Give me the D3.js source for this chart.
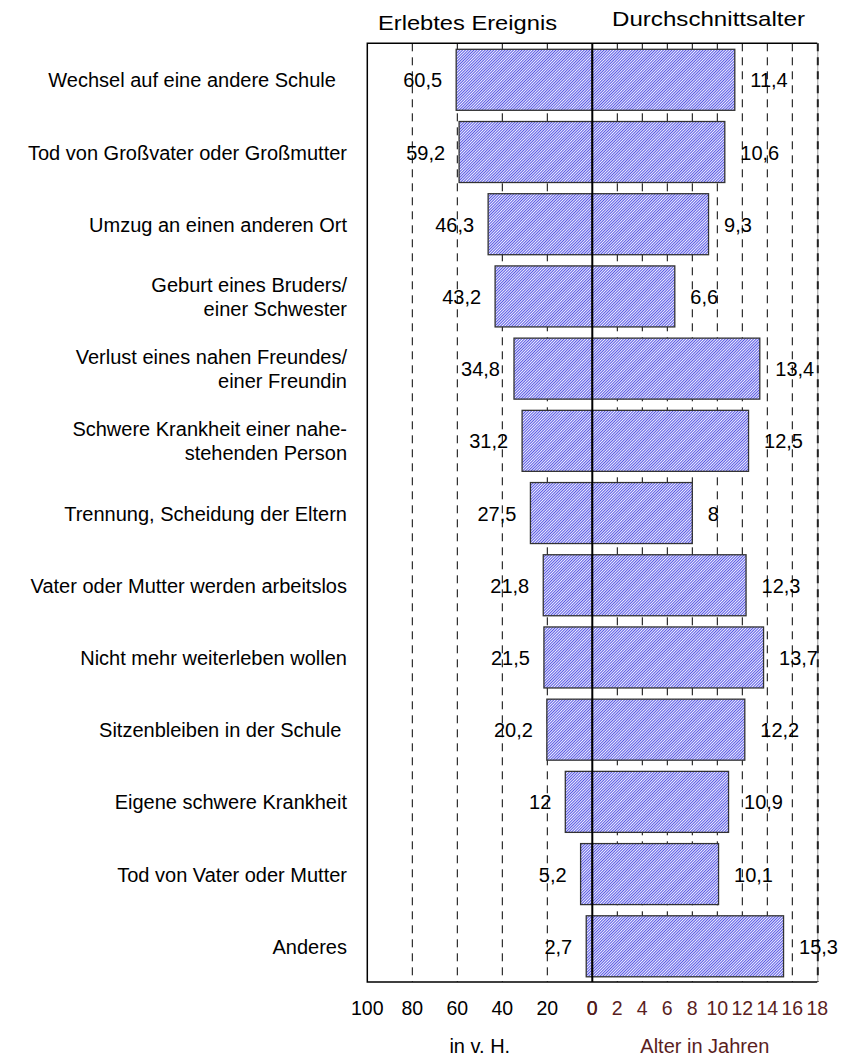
<!DOCTYPE html>
<html>
<head>
<meta charset="utf-8">
<script src="https://cdn.jsdelivr.net/npm/d3@7"></script>
<style>
  body { margin: 0; background: #fff; }
  text { font-family: Arial, "Liberation Sans", sans-serif; fill: #000; }
</style>
</head>
<body>
<svg id="chart"></svg>
<script>
const width = 841;
const height = 1059;

// Data
const categories = [
    ['Wechsel auf eine andere Schule  '],
    ['Tod von Großvater oder Großmutter'],
    ['Umzug an einen anderen Ort'],
    ['Geburt eines Bruders/', 'einer Schwester'],
    ['Verlust eines nahen Freundes/', 'einer Freundin'],
    ['Schwere Krankheit einer nahe-', 'stehenden Person'],
    ['Trennung, Scheidung der Eltern'],
    ['Vater oder Mutter werden arbeitslos'],
    ['Nicht mehr weiterleben wollen'],
    ['Sitzenbleiben in der Schule '],
    ['Eigene schwere Krankheit'],
    ['Tod von Vater oder Mutter'],
    ['Anderes']
];
const erlebt = [60.5, 59.2, 46.3, 43.2, 34.8, 31.2, 27.5, 21.8, 21.5, 20.2, 12, 5.2, 2.7];
const alter = [11.4, 10.6, 9.3, 6.6, 13.4, 12.5, 8, 12.3, 13.7, 12.2, 10.9, 10.1, 15.3];
const leftTicks = [100, 80, 60, 40, 20, 0];
const rightTicks = [0, 2, 4, 6, 8, 10, 12, 14, 16, 18];

// Layout
const plot = { left: 367.3, mid: 592.3, right: 817.3, top: 43.3, bottom: 982 };
const brown = '#5a1e1e';

const svg = d3.select('#chart')
    .attr('width', width)
    .attr('height', height);

// Hatch pattern (fine diagonal lines)
const defs = svg.append('defs');
const pat = defs.append('pattern')
    .attr('id', 'hatch')
    .attr('patternUnits', 'userSpaceOnUse')
    .attr('width', 2)
    .attr('height', 2)
    .attr('patternTransform', 'rotate(45)');
pat.append('rect').attr('width', 2).attr('height', 2).attr('fill', '#f0f0ff');
pat.append('rect').attr('width', 1).attr('height', 2).attr('fill', '#5858e4');

// Scales
const xLeft = d3.scaleLinear().domain([0, 100]).range([plot.mid, plot.left]);
const xRight = d3.scaleLinear().domain([0, 18]).range([plot.mid, plot.right]);

const bandStep = (plot.bottom - plot.top) / categories.length;
const barTop = i => plot.top + i * bandStep + 6;
const barH = 61;
const rowMid = i => plot.top + (i + 0.5) * bandStep;

// Gridlines
const grid = svg.append('g').attr('class', 'grid');
grid.selectAll('.gl')
    .data([80, 60, 40, 20])
    .join('line')
    .attr('x1', d => xLeft(d)).attr('x2', d => xLeft(d))
    .attr('y1', plot.top).attr('y2', plot.bottom)
    .attr('stroke', '#000').attr('stroke-width', 1)
    .attr('stroke-dasharray', '8,6');
grid.selectAll('.gr')
    .data([2, 4, 6, 8, 10, 12, 14, 16])
    .join('line')
    .attr('x1', d => xRight(d)).attr('x2', d => xRight(d))
    .attr('y1', plot.top).attr('y2', plot.bottom)
    .attr('stroke', '#000').attr('stroke-width', 1)
    .attr('stroke-dasharray', '8,6');

// Frame
const frame = svg.append('g');
frame.append('path')
    .attr('d', `M${plot.right},${plot.top}H${plot.left}V${plot.bottom}H${plot.right}`)
    .attr('fill', 'none').attr('stroke', '#000').attr('stroke-width', 1.5);
frame.append('line')
    .attr('x1', plot.right + 0.5).attr('x2', plot.right + 0.5)
    .attr('y1', plot.top).attr('y2', plot.bottom)
    .attr('stroke', '#999').attr('stroke-width', 1);
frame.append('line')
    .attr('x1', plot.right + 0.5).attr('x2', plot.right + 0.5)
    .attr('y1', plot.top).attr('y2', plot.bottom)
    .attr('stroke', '#222').attr('stroke-width', 2)
    .attr('stroke-dasharray', '8,6');

// Bars
const bars = svg.append('g');
bars.selectAll('.bl')
    .data(erlebt)
    .join('rect')
    .attr('x', d => xLeft(d))
    .attr('y', (d, i) => barTop(i))
    .attr('width', d => plot.mid - xLeft(d))
    .attr('height', barH)
    .attr('fill', 'url(#hatch)')
    .attr('stroke', '#333').attr('stroke-width', 1.3);
bars.selectAll('.br')
    .data(alter)
    .join('rect')
    .attr('x', plot.mid)
    .attr('y', (d, i) => barTop(i))
    .attr('width', d => xRight(d) - plot.mid)
    .attr('height', barH)
    .attr('fill', 'url(#hatch)')
    .attr('stroke', '#333').attr('stroke-width', 1.3);

// Center line
svg.append('line')
    .attr('x1', plot.mid).attr('x2', plot.mid)
    .attr('y1', plot.top).attr('y2', plot.bottom)
    .attr('stroke', '#000').attr('stroke-width', 2);

// Value labels
const fmt = v => String(v).replace('.', ',');
svg.append('g').selectAll('text')
    .data(erlebt)
    .join('text')
    .attr('x', d => xLeft(d) - 14)
    .attr('y', (d, i) => rowMid(i) + 8)
    .attr('text-anchor', 'end')
    .attr('font-size', 20)
    .text(fmt);
svg.append('g').selectAll('text')
    .data(alter)
    .join('text')
    .attr('x', d => xRight(d) + 15.5)
    .attr('y', (d, i) => rowMid(i) + 8)
    .attr('font-size', 20)
    .text(fmt);

// Category labels
const cat = svg.append('g').selectAll('text')
    .data(categories)
    .join('text')
    .attr('text-anchor', 'end')
    .attr('font-size', 20)
    .style('white-space', 'pre')
    .attr('y', (d, i) => rowMid(i) + 8 - (d.length - 1) * 12);
cat.selectAll('tspan')
    .data(d => d)
    .join('tspan')
    .attr('x', 347)
    .attr('dy', (d, i) => i === 0 ? 0 : 24)
    .text(d => d);

// Axis tick labels
svg.append('g').selectAll('text')
    .data(leftTicks)
    .join('text')
    .attr('x', d => xLeft(d))
    .attr('y', 1015)
    .attr('text-anchor', 'middle')
    .attr('font-size', 19.5)
    .text(d => d);
svg.append('g').selectAll('text')
    .data(rightTicks)
    .join('text')
    .attr('x', d => xRight(d))
    .attr('y', 1015)
    .attr('text-anchor', 'middle')
    .attr('font-size', 19.5)
    .style('fill', brown)
    .text(d => d);

// Axis titles
svg.append('text')
    .attr('x', (plot.left + plot.mid) / 2).attr('y', 1053)
    .attr('text-anchor', 'middle').attr('font-size', 20)
    .text('in v. H.');
svg.append('text')
    .attr('x', (plot.mid + plot.right) / 2).attr('y', 1053)
    .attr('text-anchor', 'middle').attr('font-size', 20)
    .style('fill', brown)
    .text('Alter in Jahren');

// Headers
svg.append('text')
    .attr('x', 378).attr('y', 30)
    .attr('font-size', 21)
    .attr('textLength', 179).attr('lengthAdjust', 'spacingAndGlyphs')
    .text('Erlebtes Ereignis');
svg.append('text')
    .attr('x', 612).attr('y', 26)
    .attr('font-size', 21)
    .attr('textLength', 193).attr('lengthAdjust', 'spacingAndGlyphs')
    .text('Durchschnittsalter');
</script>
</body>
</html>
